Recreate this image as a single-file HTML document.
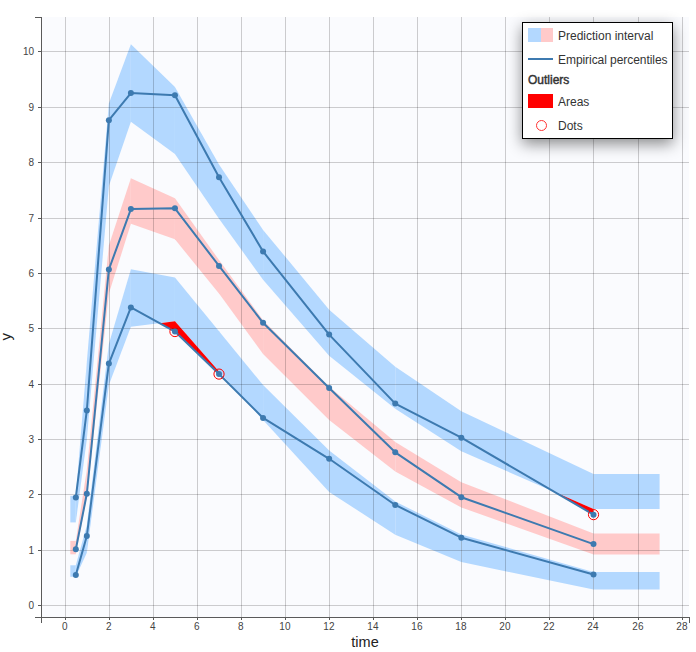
<!DOCTYPE html>
<html><head><meta charset="utf-8"><title>VPC</title>
<style>
html,body{margin:0;padding:0;background:#fff;}
body{width:696px;height:652px;position:relative;overflow:hidden;font-family:"Liberation Sans",Arial,sans-serif;}
svg{position:absolute;left:0;top:0;}
svg text{font-family:"Liberation Sans",Arial,sans-serif;}
.legend{position:absolute;left:522px;top:22px;width:149px;height:115px;border:1px solid #000;background:#fff;
box-shadow:0 5px 14px rgba(0,0,0,0.45);color:#333;font-size:12px;}
.legend .sw{position:absolute;}
.legend .lbl{position:absolute;left:35px;white-space:nowrap;}
</style></head>
<body>
<svg width="696" height="652" viewBox="0 0 696 652">
<rect x="41" y="17" width="648" height="600" fill="#fafbfe"/>
<path d="M70.31,495.81 L75.81,495.81 L75.81,522.40 L70.31,522.40 Z" fill="#b3d8ff"/>
<path d="M75.81,495.81 L86.83,361.74 L86.83,439.30 L75.81,522.40 Z" fill="#b3d8ff"/>
<path d="M86.83,361.74 L108.86,103.58 L108.86,186.12 L86.83,439.30 Z" fill="#b3d8ff"/>
<path d="M108.86,103.58 L130.89,44.30 L130.89,121.86 L108.86,186.12 Z" fill="#b3d8ff"/>
<path d="M130.89,44.30 L174.95,86.96 L174.95,153.99 L130.89,121.86 Z" fill="#b3d8ff"/>
<path d="M174.95,86.96 L219.01,164.52 L219.01,218.81 L174.95,153.99 Z" fill="#b3d8ff"/>
<path d="M219.01,164.52 L263.07,229.89 L263.07,279.75 L219.01,218.81 Z" fill="#b3d8ff"/>
<path d="M263.07,229.89 L329.16,309.66 L329.16,355.65 L263.07,279.75 Z" fill="#b3d8ff"/>
<path d="M329.16,309.66 L395.25,366.73 L395.25,408.83 L329.16,355.65 Z" fill="#b3d8ff"/>
<path d="M395.25,366.73 L461.34,411.32 L461.34,451.21 L395.25,408.83 Z" fill="#b3d8ff"/>
<path d="M461.34,411.32 L593.52,473.93 L593.52,509.10 L461.34,451.21 Z" fill="#b3d8ff"/>
<path d="M593.52,473.93 L659.61,473.93 L659.61,509.10 L593.52,509.10 Z" fill="#b3d8ff"/>
<path d="M70.31,540.90 L75.81,540.90 L75.81,554.31 L70.31,554.31 Z" fill="#ffcaca"/>
<path d="M75.81,540.90 L86.83,469.77 L86.83,497.47 L75.81,554.31 Z" fill="#ffcaca"/>
<path d="M86.83,469.77 L108.86,245.40 L108.86,293.60 L86.83,497.47 Z" fill="#ffcaca"/>
<path d="M108.86,245.40 L130.89,178.37 L130.89,223.79 L108.86,293.60 Z" fill="#ffcaca"/>
<path d="M130.89,178.37 L174.95,198.31 L174.95,239.31 L130.89,223.79 Z" fill="#ffcaca"/>
<path d="M174.95,198.31 L219.01,260.08 L219.01,293.60 L174.95,239.31 Z" fill="#ffcaca"/>
<path d="M219.01,260.08 L263.07,320.19 L263.07,353.98 L219.01,293.60 Z" fill="#ffcaca"/>
<path d="M263.07,320.19 L329.16,386.67 L329.16,419.91 L263.07,353.98 Z" fill="#ffcaca"/>
<path d="M329.16,386.67 L395.25,442.07 L395.25,471.43 L329.16,419.91 Z" fill="#ffcaca"/>
<path d="M395.25,442.07 L461.34,482.18 L461.34,507.44 L395.25,471.43 Z" fill="#ffcaca"/>
<path d="M461.34,482.18 L593.52,533.48 L593.52,554.53 L461.34,507.44 Z" fill="#ffcaca"/>
<path d="M593.52,533.48 L659.61,533.48 L659.61,554.53 L593.52,554.53 Z" fill="#ffcaca"/>
<path d="M70.31,565.28 L75.81,565.28 L75.81,576.80 L70.31,576.80 Z" fill="#b3d8ff"/>
<path d="M75.81,565.28 L86.83,525.17 L86.83,552.87 L75.81,576.80 Z" fill="#b3d8ff"/>
<path d="M86.83,525.17 L108.86,344.01 L108.86,385.01 L86.83,552.87 Z" fill="#b3d8ff"/>
<path d="M108.86,344.01 L130.89,269.22 L130.89,326.84 L108.86,385.01 Z" fill="#b3d8ff"/>
<path d="M130.89,269.22 L174.95,277.53 L174.95,321.30 L130.89,326.84 Z" fill="#b3d8ff"/>
<path d="M174.95,277.53 L219.01,331.27 L219.01,371.44 L174.95,321.30 Z" fill="#b3d8ff"/>
<path d="M219.01,331.27 L263.07,385.01 L263.07,419.91 L219.01,371.44 Z" fill="#b3d8ff"/>
<path d="M263.07,385.01 L329.16,450.38 L329.16,491.93 L263.07,419.91 Z" fill="#b3d8ff"/>
<path d="M329.16,450.38 L395.25,501.51 L395.25,534.75 L329.16,491.93 Z" fill="#b3d8ff"/>
<path d="M395.25,501.51 L461.34,534.59 L461.34,562.01 L395.25,534.75 Z" fill="#b3d8ff"/>
<path d="M461.34,534.59 L593.52,571.98 L593.52,589.49 L461.34,562.01 Z" fill="#b3d8ff"/>
<path d="M593.52,571.98 L659.61,571.98 L659.61,589.49 L593.52,589.49 Z" fill="#b3d8ff"/>
<path d="M555.21,492.32 L593.52,514.64 L593.52,509.10 L555.21,492.32 Z" fill="#ff0000"/>
<path d="M159.71,323.21 L174.95,331.55 L219.01,374.09 L219.01,371.44 L174.95,321.30 L159.71,323.21 Z" fill="#ff0000"/>
<g stroke="#000" stroke-opacity="0.19" stroke-width="1" fill="none" shape-rendering="crispEdges"><path d="M41,605.5H689"/><path d="M41,550.5H689"/><path d="M41,494.5H689"/><path d="M41,439.5H689"/><path d="M41,384.5H689"/><path d="M41,328.5H689"/><path d="M41,273.5H689"/><path d="M41,218.5H689"/><path d="M41,162.5H689"/><path d="M41,107.5H689"/><path d="M41,51.5H689"/><path d="M65.5,17V617"/><path d="M109.5,17V617"/><path d="M153.5,17V617"/><path d="M197.5,17V617"/><path d="M241.5,17V617"/><path d="M285.5,17V617"/><path d="M329.5,17V617"/><path d="M373.5,17V617"/><path d="M417.5,17V617"/><path d="M461.5,17V617"/><path d="M505.5,17V617"/><path d="M549.5,17V617"/><path d="M593.5,17V617"/><path d="M638.5,17V617"/><path d="M682.5,17V617"/></g>
<path d="M75.81,497.47 L86.83,410.49 L108.86,120.20 L130.89,93.05 L174.95,95.27 L219.01,177.26 L263.07,251.49 L329.16,334.59 L395.25,403.57 L461.34,437.64 L593.52,514.64" stroke="#3d7ab0" stroke-width="2" fill="none" stroke-linejoin="round"/>
<circle cx="75.81" cy="497.47" r="3.0" fill="#3d7ab0"/>
<circle cx="86.83" cy="410.49" r="3.0" fill="#3d7ab0"/>
<circle cx="108.86" cy="120.20" r="3.0" fill="#3d7ab0"/>
<circle cx="130.89" cy="93.05" r="3.0" fill="#3d7ab0"/>
<circle cx="174.95" cy="95.27" r="3.0" fill="#3d7ab0"/>
<circle cx="219.01" cy="177.26" r="3.0" fill="#3d7ab0"/>
<circle cx="263.07" cy="251.49" r="3.0" fill="#3d7ab0"/>
<circle cx="329.16" cy="334.59" r="3.0" fill="#3d7ab0"/>
<circle cx="395.25" cy="403.57" r="3.0" fill="#3d7ab0"/>
<circle cx="461.34" cy="437.64" r="3.0" fill="#3d7ab0"/>
<circle cx="593.52" cy="514.64" r="3.0" fill="#3d7ab0"/>
<path d="M75.81,549.21 L86.83,493.81 L108.86,269.50 L130.89,209.11 L174.95,208.28 L219.01,265.90 L263.07,322.79 L329.16,388.00 L395.25,452.32 L461.34,497.19 L593.52,544.12" stroke="#3d7ab0" stroke-width="2" fill="none" stroke-linejoin="round"/>
<circle cx="75.81" cy="549.21" r="3.0" fill="#3d7ab0"/>
<circle cx="86.83" cy="493.81" r="3.0" fill="#3d7ab0"/>
<circle cx="108.86" cy="269.50" r="3.0" fill="#3d7ab0"/>
<circle cx="130.89" cy="209.11" r="3.0" fill="#3d7ab0"/>
<circle cx="174.95" cy="208.28" r="3.0" fill="#3d7ab0"/>
<circle cx="219.01" cy="265.90" r="3.0" fill="#3d7ab0"/>
<circle cx="263.07" cy="322.79" r="3.0" fill="#3d7ab0"/>
<circle cx="329.16" cy="388.00" r="3.0" fill="#3d7ab0"/>
<circle cx="395.25" cy="452.32" r="3.0" fill="#3d7ab0"/>
<circle cx="461.34" cy="497.19" r="3.0" fill="#3d7ab0"/>
<circle cx="593.52" cy="544.12" r="3.0" fill="#3d7ab0"/>
<path d="M75.81,575.03 L86.83,535.92 L108.86,363.57 L130.89,307.45 L174.95,331.55 L219.01,374.09 L263.07,417.97 L329.16,458.80 L395.25,504.95 L461.34,537.69 L593.52,574.48" stroke="#3d7ab0" stroke-width="2" fill="none" stroke-linejoin="round"/>
<circle cx="75.81" cy="575.03" r="3.0" fill="#3d7ab0"/>
<circle cx="86.83" cy="535.92" r="3.0" fill="#3d7ab0"/>
<circle cx="108.86" cy="363.57" r="3.0" fill="#3d7ab0"/>
<circle cx="130.89" cy="307.45" r="3.0" fill="#3d7ab0"/>
<circle cx="174.95" cy="331.55" r="3.0" fill="#3d7ab0"/>
<circle cx="219.01" cy="374.09" r="3.0" fill="#3d7ab0"/>
<circle cx="263.07" cy="417.97" r="3.0" fill="#3d7ab0"/>
<circle cx="329.16" cy="458.80" r="3.0" fill="#3d7ab0"/>
<circle cx="395.25" cy="504.95" r="3.0" fill="#3d7ab0"/>
<circle cx="461.34" cy="537.69" r="3.0" fill="#3d7ab0"/>
<circle cx="593.52" cy="574.48" r="3.0" fill="#3d7ab0"/>
<circle cx="593.52" cy="514.64" r="5.1" fill="none" stroke="#ff0000" stroke-width="1.0"/>
<circle cx="174.95" cy="331.55" r="5.1" fill="none" stroke="#ff0000" stroke-width="1.0"/>
<circle cx="219.01" cy="374.09" r="5.1" fill="none" stroke="#ff0000" stroke-width="1.0"/>
<path d="M35,17.5H41.5V617.5H35" stroke="#5a5a5a" stroke-width="1" fill="none" shape-rendering="crispEdges"/>
<path d="M41.5,623V617.5H689.5V623" stroke="#5a5a5a" stroke-width="1" fill="none" shape-rendering="crispEdges"/>
<path d="M38,605.5H41M38,550.5H41M38,494.5H41M38,439.5H41M38,384.5H41M38,328.5H41M38,273.5H41M38,218.5H41M38,162.5H41M38,107.5H41M38,51.5H41M65.5,617V620M109.5,617V620M153.5,617V620M197.5,617V620M241.5,617V620M285.5,617V620M329.5,617V620M373.5,617V620M417.5,617V620M461.5,617V620M505.5,617V620M549.5,617V620M593.5,617V620M638.5,617V620M682.5,617V620" stroke="#5a5a5a" stroke-width="1" fill="none" shape-rendering="crispEdges"/>
<g font-size="10" fill="#444"><text x="34" y="609.1" text-anchor="end">0</text><text x="34" y="554.1" text-anchor="end">1</text><text x="34" y="498.1" text-anchor="end">2</text><text x="34" y="443.1" text-anchor="end">3</text><text x="34" y="388.1" text-anchor="end">4</text><text x="34" y="332.1" text-anchor="end">5</text><text x="34" y="277.1" text-anchor="end">6</text><text x="34" y="222.1" text-anchor="end">7</text><text x="34" y="166.1" text-anchor="end">8</text><text x="34" y="111.1" text-anchor="end">9</text><text x="34" y="55.1" text-anchor="end">10</text><text x="64.9" y="630" text-anchor="middle">0</text><text x="108.9" y="630" text-anchor="middle">2</text><text x="152.9" y="630" text-anchor="middle">4</text><text x="196.9" y="630" text-anchor="middle">6</text><text x="240.9" y="630" text-anchor="middle">8</text><text x="284.9" y="630" text-anchor="middle">10</text><text x="328.9" y="630" text-anchor="middle">12</text><text x="372.9" y="630" text-anchor="middle">14</text><text x="416.9" y="630" text-anchor="middle">16</text><text x="460.9" y="630" text-anchor="middle">18</text><text x="504.9" y="630" text-anchor="middle">20</text><text x="548.9" y="630" text-anchor="middle">22</text><text x="592.9" y="630" text-anchor="middle">24</text><text x="637.9" y="630" text-anchor="middle">26</text><text x="681.9" y="630" text-anchor="middle">28</text></g>
<text x="365" y="646.5" text-anchor="middle" font-size="14.5" fill="#222">time</text>
<text transform="translate(11,336.8) rotate(-90)" text-anchor="middle" font-size="15" fill="#222">y</text>
</svg>
<div class="legend">
  <div class="sw" style="left:5px;top:5px;width:13px;height:14px;background:#b3d8ff"></div>
  <div class="sw" style="left:18px;top:5px;width:12px;height:14px;background:#ffcaca"></div>
  <div class="lbl" style="top:6px;">Prediction interval</div>
  <div class="sw" style="left:5px;top:35px;width:25px;height:2px;background:#3d7ab0"></div>
  <div class="lbl" style="top:30px;letter-spacing:-0.06px">Empirical percentiles</div>
  <div class="lbl" style="left:5px;top:49.6px;font-weight:normal;-webkit-text-stroke:0.45px #333;color:#333">Outliers</div>
  <div class="sw" style="left:5px;top:71px;width:25px;height:14px;background:#ff0000"></div>
  <div class="lbl" style="top:72px;">Areas</div>
  <div class="sw" style="left:13px;top:96.8px;width:9px;height:9px;border:1.3px solid #f33;border-radius:50%"></div>
  <div class="lbl" style="top:96px;">Dots</div>
</div>
</body></html>
